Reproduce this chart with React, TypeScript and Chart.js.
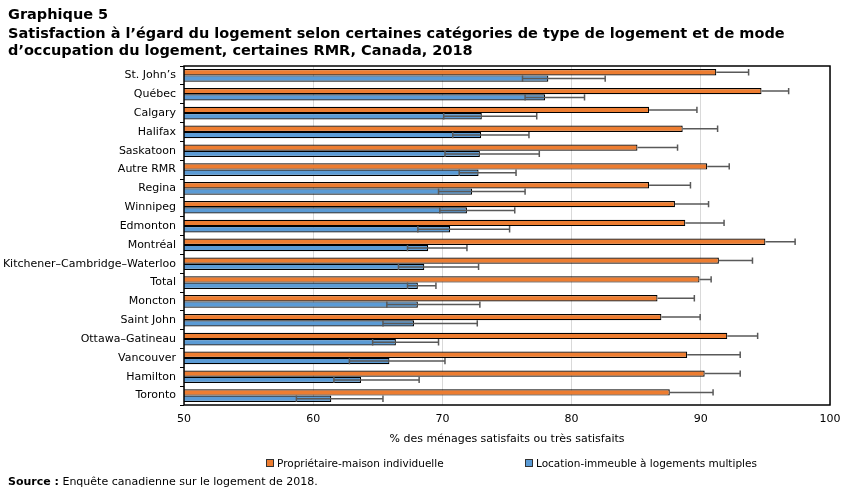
import React, { useEffect, useRef } from "react";
import { Chart, registerables } from "chart.js";

Chart.register(...registerables);

const categories = [
  "St. John’s", "Québec", "Calgary", "Halifax", "Saskatoon", "Autre RMR",
  "Regina", "Winnipeg", "Edmonton", "Montréal", "Kitchener–Cambridge–Waterloo",
  "Total", "Moncton", "Saint John", "Ottawa–Gatineau", "Vancouver", "Hamilton", "Toronto",
];
const ownerValues = [91.2, 94.7, 86.0, 88.6, 85.1, 90.5, 86.0, 88.0, 88.8, 95.0, 91.4, 89.9, 86.65, 86.95, 92.05, 88.95, 90.3, 87.6];
const ownerUpper = [93.7, 96.8, 89.7, 91.3, 88.2, 92.2, 89.2, 90.6, 91.8, 97.3, 94.0, 90.8, 89.5, 89.95, 94.4, 93.05, 93.05, 90.95];
const renterValues = [78.2, 77.95, 73.05, 73.0, 72.9, 72.8, 72.3, 71.9, 70.6, 68.9, 68.6, 68.1, 68.1, 67.8, 66.4, 65.9, 63.7, 61.4];
const renterLower = [76.2, 76.4, 70.1, 70.8, 70.2, 71.3, 69.7, 69.8, 68.1, 67.3, 66.6, 67.3, 65.7, 65.4, 64.6, 62.8, 61.6, 58.7];
const renterUpper = [82.6, 81.0, 77.3, 76.7, 77.5, 75.7, 76.4, 75.6, 75.2, 71.9, 72.8, 69.5, 72.9, 72.7, 69.7, 70.2, 68.2, 65.4];
const xTicks = [50, 60, 70, 80, 90, 100];

const seriesNames = ["Propriétaire-maison individuelle", "Location-immeuble à logements multiples"];
const ORANGE = "#ED7D31";
const BLUE = "#5B9BD5";
const FONT = "'DejaVu Sans', sans-serif";

const errorBarPlugin = {
  id: "errorBars",
  afterDatasetsDraw(chart: any) {
    const ctx = chart.ctx;
    const xs = chart.scales.x;
    ctx.save();
    ctx.strokeStyle = "#595959";
    ctx.lineWidth = 1.5;
    const sets = [
      { idx: 0, lo: null as number[] | null, hi: ownerUpper },
      { idx: 1, lo: renterLower, hi: renterUpper },
    ];
    sets.forEach((s) => {
      const meta = chart.getDatasetMeta(s.idx);
      meta.data.forEach((el: any, i: number) => {
        const y = el.y;
        const h = el.height / 2;
        const xHi = xs.getPixelForValue(s.hi[i]);
        const xLo = s.lo ? xs.getPixelForValue(s.lo[i]) : el.x;
        ctx.beginPath();
        ctx.moveTo(xLo, y);
        ctx.lineTo(xHi, y);
        ctx.moveTo(xHi, y - h);
        ctx.lineTo(xHi, y + h);
        if (s.lo) {
          ctx.moveTo(xLo, y - h);
          ctx.lineTo(xLo, y + h);
        }
        ctx.stroke();
      });
    });
    const a = chart.chartArea;
    ctx.strokeStyle = "#000";
    ctx.lineWidth = 1.5;
    ctx.strokeRect(a.left, a.top, a.right - a.left, a.bottom - a.top);
    ctx.restore();
  },
};

export default function App() {
  const ref = useRef<HTMLCanvasElement>(null);
  useEffect(() => {
    if (!ref.current) return;
    const chart = new Chart(ref.current, {
      type: "bar",
      data: {
        labels: categories,
        datasets: [
          { label: seriesNames[0], data: ownerValues, backgroundColor: ORANGE, borderColor: "#000", borderWidth: 1.2 },
          { label: seriesNames[1], data: renterValues, backgroundColor: BLUE, borderColor: "#000", borderWidth: 1.2 },
        ],
      },
      options: {
        indexAxis: "y",
        responsive: false,
        animation: false,
        events: [],
        datasets: { bar: { categoryPercentage: 0.67, barPercentage: 1.0 } },
        layout: { padding: { left: 0, right: 21, top: 66, bottom: 46 } },
        plugins: { legend: { display: false }, tooltip: { enabled: false }, title: { display: false } },
        scales: {
          x: {
            min: 50,
            max: 100,
            afterBuildTicks: (scale: any) => {
              scale.ticks = xTicks.map((v) => ({ value: v }));
            },
            afterFit: (scale: any) => {
              scale.height = 41;
            },
            grid: { color: "#D9D9D9", lineWidth: 1, drawTicks: false },
            border: { display: false },
            ticks: { padding: 8, color: "#000", font: { family: FONT, size: 11 } },
            title: {
              display: true,
              text: "% des ménages satisfaits ou très satisfaits",
              color: "#000",
              font: { family: FONT, size: 11 },
              padding: { top: 0, bottom: 0 },
            },
          },
          y: {
            afterFit: (scale: any) => {
              scale.width = 184;
            },
            grid: { display: true, drawOnChartArea: false, drawTicks: true, tickLength: 4, color: "#000" },
            border: { display: false },
            ticks: { padding: 4, color: "#000", font: { family: FONT, size: 11 }, autoSkip: false },
          },
        },
      },
      plugins: [errorBarPlugin],
    });
    return () => chart.destroy();
  }, []);

  const box = (c: string) => ({
    display: "inline-block",
    width: 6,
    height: 6,
    background: c,
    border: "1px solid #333",
    marginRight: 3,
    verticalAlign: "middle",
    position: "relative" as const,
    top: -1,
  });

  return (
    <div style={{ position: "fixed", left: 0, top: 0, width: 851, height: 492, background: "#fff", fontFamily: FONT, color: "#000" }}>
      <canvas ref={ref} width={851} height={492} style={{ position: "absolute", left: 0, top: 0 }} />
      <div style={{ position: "absolute", left: 8, top: 6, fontWeight: "bold", fontSize: 14.5, lineHeight: "17px" }}>Graphique 5</div>
      <div style={{ position: "absolute", left: 8, top: 25, fontWeight: "bold", fontSize: 14.5, lineHeight: "16.5px", whiteSpace: "nowrap" }}>
        Satisfaction à l’égard du logement selon certaines catégories de type de logement et de mode
        <br />
        d’occupation du logement, certaines RMR, Canada, 2018
      </div>
      <div style={{ position: "absolute", left: 266, top: 456, fontSize: 10.5, lineHeight: "14px", whiteSpace: "nowrap" }}>
        <span style={box(ORANGE)} />
        {seriesNames[0]}
      </div>
      <div style={{ position: "absolute", left: 525, top: 456, fontSize: 10.5, lineHeight: "14px", whiteSpace: "nowrap" }}>
        <span style={box(BLUE)} />
        {seriesNames[1]}
      </div>
      <div style={{ position: "absolute", left: 8, top: 475, fontSize: 11, lineHeight: "14px", whiteSpace: "nowrap" }}>
        <b>Source :</b> Enquête canadienne sur le logement de 2018.
      </div>
    </div>
  );
}
